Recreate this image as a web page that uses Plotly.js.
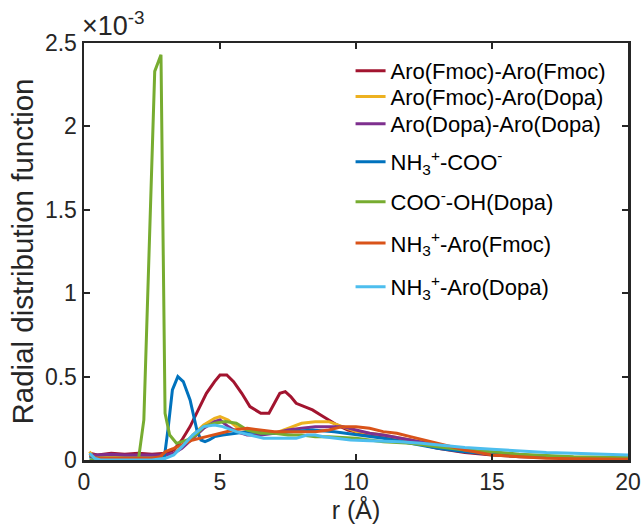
<!DOCTYPE html>
<html>
<head>
<meta charset="utf-8">
<script src="https://cdn.plot.ly/plotly-3.0.1.min.js"></script>
<style>html,body{margin:0;padding:0;background:#fff;}#chart{width:644px;height:526px;}</style>
</head>
<body>
<div id="chart"></div>
<script>
// Values in units of 1e-3
const seriesNames = [
  "Aro(Fmoc)-Aro(Fmoc)",
  "Aro(Fmoc)-Aro(Dopa)",
  "Aro(Dopa)-Aro(Dopa)",
  "NH<sub>3</sub><sup>+</sup>-COO<sup>-</sup>",
  "COO<sup>-</sup>-OH(Dopa)",
  "NH<sub>3</sub><sup>+</sup>-Aro(Fmoc)",
  "NH<sub>3</sub><sup>+</sup>-Aro(Dopa)"
];
const seriesColors = ["#A2142F", "#EDB120", "#7E2F8E", "#0072BD", "#77AC30", "#D95319", "#4DBEEE"];

const rFmocFmoc = [0.2,0.5,1,1.5,2,2.5,3,3.3,3.6,3.9,4.2,4.5,4.8,5,5.25,5.5,5.8,6.1,6.5,6.8,7.0,7.2,7.4,7.6,7.8,8.1,8.4,8.7,9.0,9.3,9.7,10,10.5,11,11.5,12,12.5,13,14,15,16,17,18,19,20];
const vFmocFmoc = [0.04,0.03,0.04,0.035,0.04,0.035,0.04,0.06,0.12,0.2,0.3,0.4,0.47,0.51,0.51,0.47,0.4,0.32,0.28,0.28,0.34,0.40,0.41,0.38,0.34,0.32,0.30,0.27,0.24,0.21,0.18,0.17,0.15,0.14,0.13,0.12,0.09,0.07,0.045,0.03,0.02,0.015,0.012,0.01,0.01];

const rFmocDopa = [0.2,0.3,0.5,1,1.5,2,2.5,3,3.3,3.6,4,4.4,4.8,5,5.3,5.6,6,6.5,7,7.5,8,8.5,9,9.5,10,10.5,11,12,13,14,15,16,18,20];
const vFmocDopa = [0.05,0.03,0.02,0.02,0.02,0.02,0.02,0.02,0.04,0.08,0.15,0.21,0.25,0.26,0.24,0.2,0.18,0.17,0.16,0.19,0.22,0.23,0.23,0.2,0.17,0.16,0.15,0.12,0.09,0.06,0.04,0.03,0.015,0.01];

const rDopaDopa = [0.2,0.5,1,1.5,2,2.5,3,3.3,3.6,4,4.4,4.8,5,5.3,5.6,6,6.5,7,7.5,8,8.5,9,9.5,10,10.5,11,12,13,14,15,16,18,20];
const vDopaDopa = [0.03,0.03,0.035,0.03,0.03,0.03,0.03,0.04,0.07,0.13,0.19,0.23,0.24,0.2,0.17,0.15,0.15,0.16,0.18,0.19,0.2,0.2,0.2,0.18,0.16,0.15,0.12,0.09,0.06,0.04,0.03,0.015,0.01];

const rNH3COO = [0.2,0.5,1,1.5,2,2.5,2.95,3.1,3.25,3.45,3.65,3.9,4.15,4.3,4.45,4.6,4.8,5.1,5.5,6,6.6,7,7.6,8.4,9.2,10.1,11,12,13,14,15,16,18,20];
const vNH3COO = [0.02,0.01,0.01,0.01,0.01,0.01,0.01,0.2,0.42,0.5,0.47,0.36,0.18,0.12,0.11,0.12,0.14,0.15,0.16,0.17,0.16,0.16,0.17,0.18,0.17,0.15,0.13,0.1,0.07,0.05,0.035,0.025,0.015,0.01];

const rCOOOH = [0.2,0.5,1,1.5,2.0,2.2,2.6,2.83,2.98,3.15,3.4,3.8,4.1,4.4,4.8,5.2,5.6,6,6.5,7,7.5,8,8.5,9,10,11,12,13,14,15,16,18,20];
const vCOOOH = [0,0,0,0,0,0.24,2.33,2.43,0.28,0.15,0.1,0.12,0.15,0.2,0.22,0.23,0.22,0.18,0.16,0.16,0.15,0.15,0.14,0.14,0.13,0.11,0.1,0.08,0.06,0.05,0.035,0.02,0.015];

const rNH3Fmoc = [0.2,0.5,1,1.5,2,2.5,2.8,3.0,3.3,3.6,4,4.5,5,5.5,6,6.5,7,7.5,8,8.5,9,9.5,10,10.5,11,11.5,12,12.5,13,14,15,16,17,18,20];
const vNH3Fmoc = [0.03,0.01,0.01,0.01,0.01,0.01,0.02,0.05,0.07,0.09,0.12,0.14,0.16,0.18,0.19,0.18,0.17,0.17,0.17,0.17,0.18,0.2,0.2,0.19,0.17,0.16,0.14,0.12,0.1,0.06,0.03,0.02,0.01,0.008,0.005];

const rNH3Dopa = [0.2,0.4,0.6,1,1.5,2,2.5,3,3.3,3.6,4,4.4,4.8,5.1,5.6,6.1,6.6,7.2,7.8,8.2,8.5,8.8,9.3,9.8,10.5,11.6,12.4,13,14,15,16,17,18,19,20];
const vNH3Dopa = [0.04,0.01,0.0,0.0,0.0,0.0,0.0,0.01,0.03,0.08,0.15,0.2,0.21,0.2,0.17,0.15,0.13,0.13,0.13,0.15,0.15,0.14,0.13,0.12,0.115,0.11,0.10,0.09,0.075,0.065,0.055,0.045,0.04,0.035,0.03];

const xTicks = [0,5,10,15,20];
const yTicks = [0,0.5,1,1.5,2,2.5];

const rs = [rFmocFmoc, rFmocDopa, rDopaDopa, rNH3COO, rCOOOH, rNH3Fmoc, rNH3Dopa];
const vs = [vFmocFmoc, vFmocDopa, vDopaDopa, vNH3COO, vCOOOH, vNH3Fmoc, vNH3Dopa];

const font = "Liberation Sans, Arial, Helvetica, sans-serif";
const legendIds = ["legend", "legend2", "legend3", "legend4", "legend5", "legend6", "legend7"];
const legendY = [0.933, 0.871, 0.806, 0.715, 0.619, 0.520, 0.415];

const traces = seriesNames.map((n, i) => ({
  x: rs[i], y: vs[i], name: n, type: "scatter", mode: "lines",
  legend: legendIds[i],
  line: {color: seriesColors[i], width: 3}
}));

const layout = {
  width: 644, height: 526,
  margin: {l: 84, r: 16, t: 43, b: 66},
  paper_bgcolor: "#fff", plot_bgcolor: "#fff",
  font: {family: font, color: "#262626"},
  showlegend: true,
  xaxis: {range: [0, 20], tickvals: xTicks, ticks: "inside", ticklen: 6, tickwidth: 2,
          tickcolor: "#262626", showline: true, linewidth: 2.5, linecolor: "#262626",
          mirror: "ticks", showgrid: false, zeroline: false,
          tickfont: {size: 23, family: font, color: "#262626"},
          title: {text: "r (Å)", font: {size: 25, family: font, color: "#262626"}, standoff: 4}},
  yaxis: {range: [0, 2.5], tickvals: yTicks, ticks: "inside", ticklen: 6, tickwidth: 2,
          tickcolor: "#262626", showline: true, linewidth: 2.5, linecolor: "#262626",
          mirror: "ticks", showgrid: false, zeroline: false,
          tickfont: {size: 23, family: font, color: "#262626"},
          title: {text: "Radial distribution function", font: {size: 29.5, family: font, color: "#262626"}, standoff: 3}},
  annotations: [{text: "×10<sup>-3</sup>", xref: "paper", yref: "paper", x: 0, y: 1,
                 xanchor: "left", yanchor: "bottom", showarrow: false, yshift: 0, xshift: -4,
                 font: {size: 27, family: font, color: "#262626"}}]
};
legendIds.forEach((id, i) => {
  layout[id] = {x: 0.49, y: legendY[i], xanchor: "left", yanchor: "middle",
                bgcolor: "rgba(0,0,0,0)", borderwidth: 0,
                font: {size: 22, family: font, color: "#000"}, itemwidth: 30};
});
Plotly.newPlot("chart", traces, layout, {displayModeBar: false, staticPlot: true});
</script>
</body>
</html>
